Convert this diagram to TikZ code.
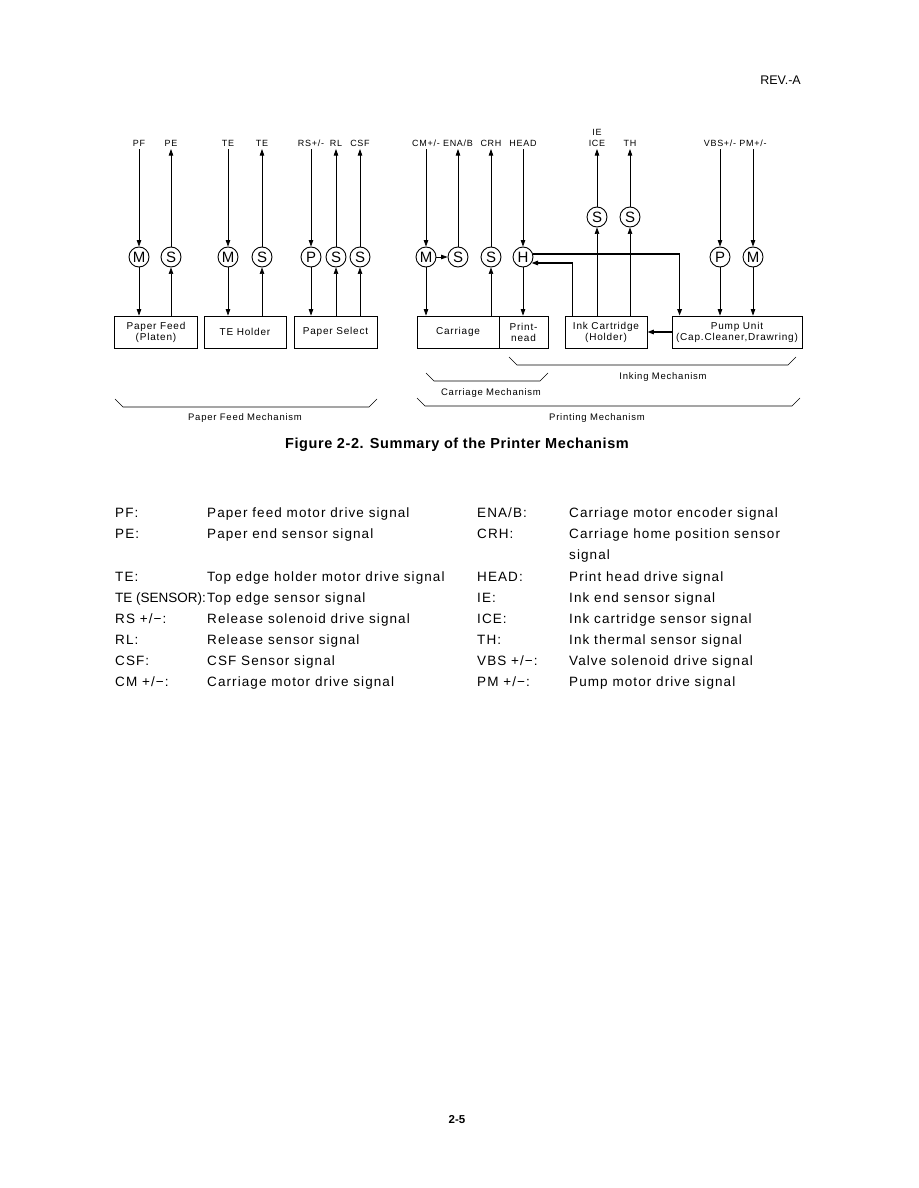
\documentclass[tikz,border=0pt]{standalone}
\usepackage{fontspec}
\setmainfont{Liberation Sans}
\newfontfamily\diafont{Liberation Sans}[LetterSpace=8]
\newfontfamily\legfont{Liberation Sans}[LetterSpace=8]
\usetikzlibrary{arrows.meta, positioning}
\tikzstyle{sigl}  = [font=\diafont\fontsize{9}{10}\selectfont,
    inner xsep=1pt, inner ysep=2.5pt, text height=6.5pt, text depth=0pt]
\tikzstyle{unit}  = [circle, draw=black, line width=0.9pt, minimum size=20pt,
    inner sep=0pt, font=\fontsize{15}{15}\selectfont]
\tikzstyle{mech}  = [rectangle, draw=black, line width=0.8pt, minimum height=32pt,
    align=center, inner sep=1pt, font=\diafont\fontsize{10}{11}\selectfont]
\tikzstyle{grp}   = [anchor=base, inner sep=0pt, font=\diafont\fontsize{9.5}{10}\selectfont]
\tikzstyle{legl}  = [anchor=base west, inner sep=0pt, font=\legfont\fontsize{13.5}{15}\selectfont]
\tikzstyle{sig}   = [-{Triangle[length=6.5pt,width=4.5pt]}, line width=0.7pt]
\tikzstyle{bus}   = [sig, line width=1.4pt]
\tikzstyle{brace} = [line width=0.6pt]
\newcommand{\mechbrace}[3]{\draw[brace] (#1,#3) -- ++(8,8) -- (#2-8,#3+8) -- (#2,#3);}

\begin{document}
\begin{tikzpicture}[x=1pt, y=-1pt]
  \useasboundingbox (0,0) rectangle (918,1188);

  \node[anchor=base east, inner sep=0pt, font=\fontsize{12.5}{14}\selectfont] (rev) at (801,85) {REV.-A};

  % Motors, sensors, solenoids
  \node[unit] (mpf)  at (139,257) {M};
  \node[unit] (spe)  at (171,257) {S};
  \node[unit] (mte)  at (228,257) {M};
  \node[unit] (ste)  at (262,257) {S};
  \node[unit] (prs)  at (311,257) {P};
  \node[unit] (srl)  at (336,257) {S};
  \node[unit] (scsf) at (360,257) {S};
  \node[unit] (mcm)  at (426,257) {M};
  \node[unit] (sena) at (458,257) {S};
  \node[unit] (scrh) at (491,257) {S};
  \node[unit] (hhead)at (523,257) {H};
  \node[unit] (sice) at (597,217) {S};
  \node[unit] (sth)  at (630,217) {S};
  \node[unit] (pvbs) at (720,257) {P};
  \node[unit] (mpm)  at (753,257) {M};

  % Signal names
  \node[sigl, above=97.5pt of mpf]  (pf)   {PF};
  \node[sigl, above=97.5pt of spe]  (pe)   {PE};
  \node[sigl, above=97.5pt of mte]  (te)   {TE};
  \node[sigl, above=97.5pt of ste]  (tes)  {TE};
  \node[sigl, above=97.5pt of prs]  (rs)   {RS+/-};
  \node[sigl, above=97.5pt of srl]  (rl)   {RL};
  \node[sigl, above=97.5pt of scsf] (csf)  {CSF};
  \node[sigl, above=97.5pt of mcm]  (cm)   {CM+/-};
  \node[sigl, above=97.5pt of sena] (ena)  {ENA/B};
  \node[sigl, above=97.5pt of scrh] (crh)  {CRH};
  \node[sigl, above=97.5pt of hhead](head) {HEAD};
  \node[sigl, above=57.5pt of sice] (ice)  {ICE};
  \node[sigl, above=-1pt of ice]    (ie)   {IE};
  \node[sigl, above=57.5pt of sth]  (th)   {TH};
  \node[sigl, above=97.5pt of pvbs] (vbs)  {VBS+/-};
  \node[sigl, above=97.5pt of mpm]  (pm)   {PM+/-};

  % Mechanism blocks
  \node[mech, minimum width=83pt] (pfbox) at (156,332) {Paper Feed\\(Platen)};
  \node[mech, minimum width=82pt] (tebox) at (245,332) {TE Holder};
  \node[mech, minimum width=83pt] (psbox) at (335.5,332) {Paper Select};
  \node[mech, minimum width=82pt] (crbox) at (458,332) {Carriage};
  \node[mech, minimum width=49pt, right=-0.8pt of crbox] (phbox) {Print-\\nead};
  \node[mech, minimum width=82pt] (inkbox) at (606,332) {Ink Cartridge\\(Holder)};
  \node[mech, minimum width=130pt] (pubox) at (737,332) {Pump Unit\\(Cap.Cleaner,Drawring)};

  % Paper feed
  \draw[sig] (pf) -- (mpf);
  \draw[sig] (mpf) -- (mpf |- pfbox.north);
  \draw[sig] (spe |- pfbox.north) -- (spe);
  \draw[sig] (spe) -- (pe);
  \draw[sig] (te) -- (mte);
  \draw[sig] (mte) -- (mte |- tebox.north);
  \draw[sig] (ste |- tebox.north) -- (ste);
  \draw[sig] (ste) -- (tes);
  \draw[sig] (rs) -- (prs);
  \draw[sig] (prs) -- (prs |- psbox.north);
  \draw[sig] (srl |- psbox.north) -- (srl);
  \draw[sig] (srl) -- (rl);
  \draw[sig] (scsf |- psbox.north) -- (scsf);
  \draw[sig] (scsf) -- (csf);

  % Carriage and head
  \draw[sig] (cm) -- (mcm);
  \draw[sig] (mcm) -- (mcm |- crbox.north);
  \draw[sig] (mcm) -- (sena);
  \draw[sig] (sena) -- (ena);
  \draw[sig] (scrh |- crbox.north) -- (scrh);
  \draw[sig] (scrh) -- (crh);
  \draw[sig] (head) -- (hhead);
  \draw[sig] (hhead) -- (hhead |- phbox.north);
  \draw[bus] (hhead.17) -| ([xshift=8pt]pubox.north west);
  \draw[bus] ([xshift=8pt]inkbox.north west) |- (hhead.-35);

  % Inking
  \draw[sig] (sice |- inkbox.north) -- (sice);
  \draw[sig] (sice) -- (ice);
  \draw[sig] (sth |- inkbox.north) -- (sth);
  \draw[sig] (sth) -- (th);
  \draw[sig] (vbs) -- (pvbs);
  \draw[sig] (pvbs) -- (pvbs |- pubox.north);
  \draw[sig] (pm) -- (mpm);
  \draw[sig] (mpm) -- (mpm |- pubox.north);
  \draw[bus] (pubox) -- (inkbox);

  % Groups
  \mechbrace{509}{796}{357}
  \node[grp] (inkg) at (663,379) {Inking Mechanism};
  \mechbrace{426}{548}{373}
  \node[grp] (carg) at (491,395) {Carriage Mechanism};
  \mechbrace{115}{377}{399}
  \node[grp] (pfg) at (245,420) {Paper Feed Mechanism};
  \mechbrace{417}{800}{398}
  \node[grp] (prg) at (597,420) {Printing Mechanism};

  \node[anchor=base, inner sep=0pt, font=\bfseries\addfontfeatures{LetterSpace=4}\fontsize{14.5}{16}\selectfont]
    (cap) at (457,448) {Figure 2-2. Summary of the Printer Mechanism};

  % Legend
  \node[legl] (lpf)  at (115,517) {PF:};
  \node[legl] (dpf)  at (207,517) {Paper feed motor drive signal};
  \node[legl] (lpe)  at (115,538) {PE:};
  \node[legl] (dpe)  at (207,538) {Paper end sensor signal};
  \node[legl] (lte)  at (115,581) {TE:};
  \node[legl] (dte)  at (207,581) {Top edge holder motor drive signal};
  \node[legl] (ltes) at (115,602) {\addfontfeatures{LetterSpace=0}TE (SENSOR):};
  \node[legl] (dtes) at (207,602) {Top edge sensor signal};
  \node[legl] (lrs)  at (115,623) {RS +/−:};
  \node[legl] (drs)  at (207,623) {Release solenoid drive signal};
  \node[legl] (lrl)  at (115,644) {RL:};
  \node[legl] (drl)  at (207,644) {Release sensor signal};
  \node[legl] (lcsf) at (115,665) {CSF:};
  \node[legl] (dcsf) at (207,665) {CSF Sensor signal};
  \node[legl] (lcm)  at (115,686) {CM +/−:};
  \node[legl] (dcm)  at (207,686) {Carriage motor drive signal};

  \node[legl] (lena) at (477,517) {ENA/B:};
  \node[legl] (dena) at (569,517) {Carriage motor encoder signal};
  \node[legl] (lcrh) at (477,538) {CRH:};
  \node[legl] (dcrh) at (569,538) {Carriage home position sensor};
  \node[legl] (dcrh2)at (569,559) {signal};
  \node[legl] (lhd)  at (477,581) {HEAD:};
  \node[legl] (dhd)  at (569,581) {Print head drive signal};
  \node[legl] (lie)  at (477,602) {IE:};
  \node[legl] (die)  at (569,602) {Ink end sensor signal};
  \node[legl] (lice) at (477,623) {ICE:};
  \node[legl] (dice) at (569,623) {Ink cartridge sensor signal};
  \node[legl] (lth)  at (477,644) {TH:};
  \node[legl] (dth)  at (569,644) {Ink thermal sensor signal};
  \node[legl] (lvbs) at (477,665) {VBS +/−:};
  \node[legl] (dvbs) at (569,665) {Valve solenoid drive signal};
  \node[legl] (lpm)  at (477,686) {PM +/−:};
  \node[legl] (dpm)  at (569,686) {Pump motor drive signal};

  \node[anchor=base, inner sep=0pt, font=\bfseries\fontsize{11.5}{13}\selectfont] (pg) at (457,1123) {2-5};
\end{tikzpicture}
\end{document}
